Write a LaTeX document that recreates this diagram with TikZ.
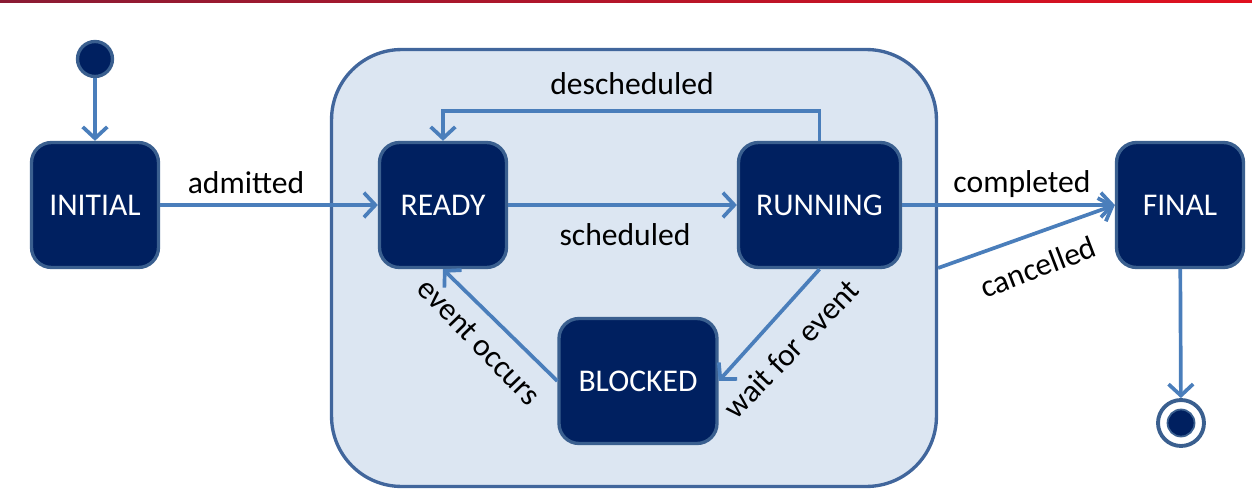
\documentclass[tikz,border=0pt]{standalone}
\usepackage{fontspec}
\setmainfont{Carlito}
\usetikzlibrary{arrows.meta}
\definecolor{boxblue}{HTML}{002060}
\definecolor{edgeblue}{HTML}{3A5F8F}
\definecolor{arrowblue}{HTML}{4A7EBB}
\definecolor{groupfill}{HTML}{DCE6F2}
\definecolor{groupedge}{HTML}{41669C}
\definecolor{barleft}{HTML}{8A1B34}
\definecolor{barmid}{HTML}{A01830}
\definecolor{barright}{HTML}{E0101F}

\begin{document}
\begin{tikzpicture}[x=0.02cm,y=-0.02cm,
    every node/.style={font=\fontsize{18}{21}\selectfont},
    state/.style={draw=edgeblue,fill=boxblue,text=white,line width=1.9pt,rounded corners=0.4cm,
                  minimum width=2.54cm,minimum height=2.5cm,inner sep=0pt},
    group/.style={draw=groupedge,fill=groupfill,line width=1.9pt,rounded corners=1.4cm,
                  minimum width=12.1cm,minimum height=8.74cm,inner sep=0pt},
    trans/.style={draw=arrowblue,line width=2.1pt,-{Straight Barb[length=6.5pt,width=14pt]}}]
    \useasboundingbox (0,0) rectangle (1252,504);
    \shade[left color=barleft,middle color=barmid,right color=barright] (0,0) rectangle (1252,2.5);

    \node[group] (proc) at (634,268) {};

    \node[state] (initial) at (95,205) {INITIAL};
    \node[state] (ready) at (443,205) {READY};
    \node[state,minimum width=3.24cm] (running) at (819.5,205) {RUNNING};
    \node[state,minimum width=3.16cm] (blocked) at (638,381) {BLOCKED};
    \node[state] (final) at (1180,205) {FINAL};

    \node[circle,draw=edgeblue,fill=boxblue,line width=1.9pt,minimum size=0.7cm,inner sep=0pt] (start) at (95,59) {};
    \node[circle,draw=edgeblue,fill=white,line width=2.2pt,minimum size=0.92cm,inner sep=0pt] (stop) at (1181,423) {};
    \node[circle,draw=edgeblue,fill=boxblue,line width=1pt,minimum size=0.54cm,inner sep=0pt] (stopdot) at (stop) {};

    \draw[trans] (start) -- (initial);
    \draw[trans] (initial) -- (ready);
    \draw[trans] (ready) -- (running);
    \draw[trans] (running.north) -- ++(0,-30) -| (ready.north);
    \draw[trans] (running.south) -- (blocked.east);
    \draw[trans] (blocked.west) -- (ready.south);
    \draw[trans] (running) -- (final);
    \draw[trans] (proc.east) -- (final.west);
    \draw[trans] (final) -- (stop);

    \node (admitted) at (246,183) {admitted};
    \node (scheduled) at (625,235) {scheduled};
    \node (descheduled) at (632,84) {descheduled};
    \node (completed) at (1022,184) {completed};
    \node[rotate=21] (cancelled) at (1038,267) {cancelled};
    \node[rotate=46] (waitfor) at (791,349) {wait for event};
    \node[rotate=-46] (occurs) at (479,342) {event occurs};
\end{tikzpicture}
\end{document}
